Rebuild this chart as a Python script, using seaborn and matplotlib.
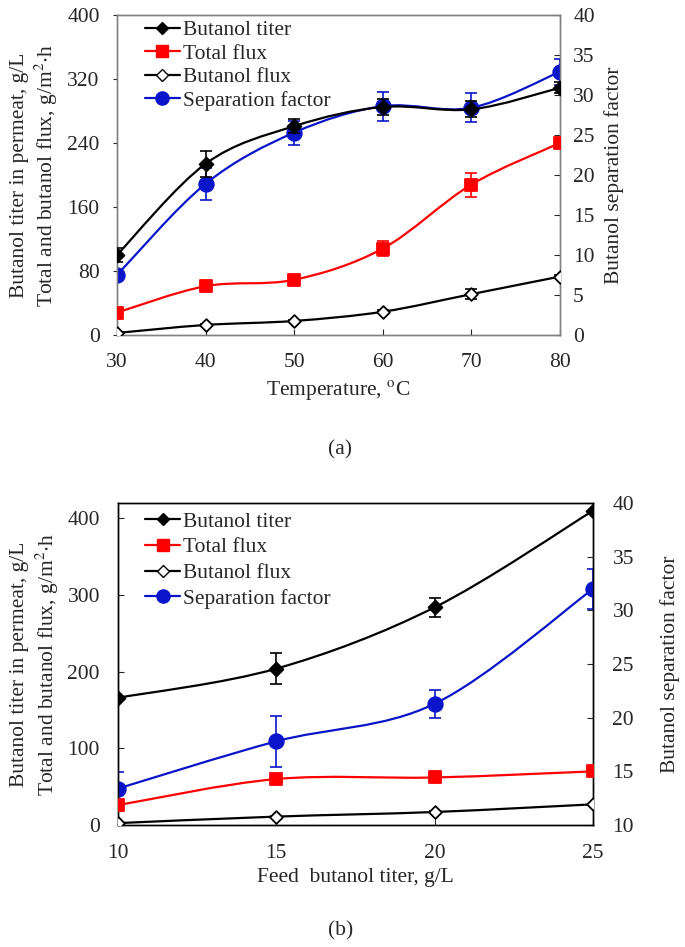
import seaborn as sns
import matplotlib.pyplot as plt
import numpy as np
import pandas as pd
from matplotlib.path import Path
from matplotlib.patches import PathPatch
from matplotlib.lines import Line2D

# panel (a): temperature series
temp = [30, 40, 50, 60, 70, 80]
titer_a = [100, 214, 261, 285, 282, 309]
titer_a_err = [9, 16, 9, 10, 10, 7]
total_a = [28, 61, 69, 108, 188, 240]
total_a_err = [3, 3, 3, 9, 15, 4]
bflux_a = [2.5, 12.5, 17.5, 29, 51, 73]
bflux_a_err = [1, 1, 1, 2, 6, 2]
sep_a = [7.5, 18.9, 25.3, 28.6, 28.4, 32.9]
sep_a_err = [0.6, 2.0, 1.5, 1.8, 1.8, 1.6]

# panel (b): feed butanol titer series
feed = [10, 15, 20, 25]
titer_b = [166, 204, 284, 410]
titer_b_err = [0, 20, 12, 0]
total_b = [26, 60, 62, 70]
total_b_err = [2, 2, 2, 2]
bflux_b = [2.5, 11, 17, 27]
bflux_b_err = [1, 1, 1, 1]
sep_b = [13.4, 17.8, 21.3, 32.0]
sep_b_err = [1.5, 2.4, 1.3, 1.9]

sns.set_style("ticks")
plt.rcParams['font.family'] = ['Liberation Serif', 'DejaVu Serif']
plt.rcParams['mathtext.fontset'] = 'stix'
FS = 15.5
BLUE = '#0a14c8'


def smooth(ax, x, y, color):
    # excel-like smoothed line: catmull-rom as cubic bezier
    x = np.asarray(x, float)
    y = np.asarray(y, float)
    p = np.column_stack([x, y])
    ext = np.vstack([p[0], p, p[-1]])
    verts = [p[0]]
    codes = [Path.MOVETO]
    for i in range(len(p) - 1):
        p0, p1, p2, p3 = ext[i], ext[i + 1], ext[i + 2], ext[i + 3]
        c1 = p1 + (p2 - p0) / 6
        c2 = p2 - (p3 - p1) / 6
        verts += [c1, c2, p2]
        codes += [Path.CURVE4] * 3
    ax.add_patch(PathPatch(Path(verts, codes), fill=False, edgecolor=color,
                           lw=1.6, zorder=2))


def series(ax, x, y, err, color, marker, face, ms):
    smooth(ax, x, y, color)
    ax.errorbar(x, y, yerr=err, fmt='none', ecolor=color, elinewidth=1.2,
                capsize=4, capthick=1.2, zorder=3)
    df = pd.DataFrame({'x': x, 'y': y})
    sns.scatterplot(data=df, x='x', y='y', ax=ax, marker=marker, s=ms,
                    color=face, edgecolor=color, linewidth=1.3, zorder=4,
                    legend=False)


fig = plt.figure(figsize=(6.85, 9.47), dpi=100)

ylab = "Butanol titer in permeat, g/L\nTotal and butanol flux, g/m$^{2}$$\\cdot$h"
handles = [
    Line2D([], [], color='black', marker='D', ms=6.5, mfc='black', lw=1.6),
    Line2D([], [], color='red', marker='s', ms=8.5, mfc='red', mec='red', lw=1.6),
    Line2D([], [], color='black', marker='D', ms=6.5, mfc='white', lw=1.6),
    Line2D([], [], color=BLUE, marker='o', ms=9.5, mfc=BLUE, mec=BLUE, lw=1.6),
]
labels = ['Butanol titer', 'Total flux', 'Butanol flux', 'Separation factor']

# ---- panel (a)
ax = fig.add_axes([0.1708, 0.6463, 0.6467, 0.3379])
ax2 = ax.twinx()
series(ax, temp, titer_a, titer_a_err, 'black', 'D', 'black', 50)
series(ax, temp, total_a, total_a_err, 'red', 's', 'red', 85)
series(ax, temp, bflux_a, bflux_a_err, 'black', 'D', 'white', 42)
series(ax2, temp, sep_a, sep_a_err, BLUE, 'o', BLUE, 110)
ax.set_xlim(30, 80)
ax.set_ylim(0, 400)
ax2.set_ylim(0, 40)
ax.set_xticks(temp)
ax.set_yticks(np.arange(0, 401, 80))
ax2.set_yticks(np.arange(0, 41, 5))
ax.set_xlabel("Temperature, $^{\\mathrm{o}}$C", fontsize=FS, labelpad=4)
ax.set_ylabel(ylab, fontsize=FS, labelpad=5)
ax2.set_ylabel("Butanol separation factor", fontsize=FS, labelpad=7)
ax.tick_params(axis='x', direction='in', labelsize=FS, pad=13, length=4)
ax.tick_params(axis='y', direction='out', labelsize=FS, pad=9.5, length=3)
ax2.tick_params(axis='y', direction='in', labelsize=FS, pad=9.5, length=4)
for a in (ax, ax2):
    for sp in a.spines.values():
        sp.set_color('#808080')
        sp.set_linewidth(1.0)
ax.set_zorder(ax2.get_zorder() + 1)
ax.patch.set_visible(False)
ax.legend(handles, labels, loc='upper left', bbox_to_anchor=(0.063, 0.984),
          frameon=False, fontsize=FS, handlelength=1.63, handletextpad=0.15,
          labelspacing=0.16, borderaxespad=0, borderpad=0)
fig.text(0.497, 1 - 450 / 947, "(a)", fontsize=FS, ha='center', va='center')

# ---- panel (b)
bx = fig.add_axes([0.1723, 0.1288, 0.6934, 0.340])
bx2 = bx.twinx()
series(bx, feed, titer_b, titer_b_err, 'black', 'D', 'black', 50)
series(bx, feed, total_b, total_b_err, 'red', 's', 'red', 85)
series(bx, feed, bflux_b, bflux_b_err, 'black', 'D', 'white', 42)
series(bx2, feed, sep_b, sep_b_err, BLUE, 'o', BLUE, 110)
bx.set_xlim(10, 25)
bx.set_ylim(0, 420)
bx2.set_ylim(10, 40)
bx.set_xticks(feed)
bx.set_yticks(np.arange(0, 401, 100))
bx2.set_yticks(np.arange(10, 41, 5))
bx.set_xlabel("Feed  butanol titer, g/L", fontsize=FS, labelpad=4)
bx.set_ylabel(ylab, fontsize=FS, labelpad=5)
bx2.set_ylabel("Butanol separation factor", fontsize=FS, labelpad=19)
bx.tick_params(axis='x', direction='in', labelsize=FS, pad=13.5, length=4)
bx.tick_params(axis='y', direction='in', labelsize=FS, pad=13, length=4)
bx2.tick_params(axis='y', direction='in', labelsize=FS, pad=14, length=4)
for a in (bx, bx2):
    for sp in a.spines.values():
        sp.set_color('black')
        sp.set_linewidth(1.0)
bx.set_zorder(bx2.get_zorder() + 1)
bx.patch.set_visible(False)
bx.legend(handles, labels, loc='upper left', bbox_to_anchor=(0.057, 0.973),
          frameon=False, fontsize=FS, handlelength=1.63, handletextpad=0.15,
          labelspacing=0.26, borderaxespad=0, borderpad=0)
fig.text(0.497, 1 - 931 / 947, "(b)", fontsize=FS, ha='center', va='center')

fig.savefig("out.png", dpi=100)
